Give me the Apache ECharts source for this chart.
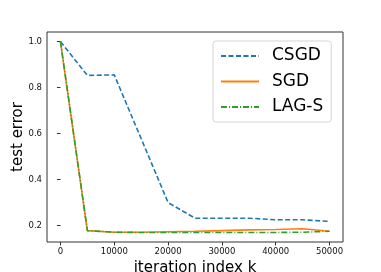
<!DOCTYPE html>
<html><head><meta charset="utf-8">
<script src="https://cdn.jsdelivr.net/npm/echarts@6/dist/echarts.min.js"></script>
<style>html,body{margin:0;padding:0;background:#fff}#c{width:381px;height:272px}</style>
</head><body><div id="c"></div>
<script>
const iterations = [0, 5000, 10000, 15000, 20000, 25000, 30000, 35000, 40000, 45000, 50000];
const csgdIters = [0, 5000, 10000, 20000, 25000, 30000, 35000, 40000, 45000, 50000];
const csgd = [1.0, 0.853, 0.855, 0.300, 0.232, 0.232, 0.232, 0.225, 0.225, 0.218];
const sgd = [1.0, 0.178, 0.171, 0.171, 0.173, 0.175, 0.178, 0.181, 0.183, 0.186, 0.175];
const lags = [1.0, 0.178, 0.171, 0.170, 0.170, 0.170, 0.170, 0.170, 0.170, 0.171, 0.175];
const xTicks = [0, 10000, 20000, 30000, 40000, 50000];
const yTicks = [0.2, 0.4, 0.6, 0.8, 1.0];
const seriesNames = ['CSGD', 'SGD', 'LAG-S'];

const pair = (xs, ys) => xs.map((x, i) => [x, ys[i]]);
const font = 'DejaVu Sans';
const chart = echarts.init(document.getElementById('c'), null, {renderer: 'canvas'});
chart.setOption({
  animation: false,
  grid: {left: 47, right: 38, top: 32, bottom: 30, show: true, borderColor: '#333', borderWidth: 1,
    containLabel: false, outerBoundsMode: 'none'},
  xAxis: {
    type: 'value', min: -2500, max: 52500,
    name: 'iteration index k', nameLocation: 'middle', nameGap: 19, nameMoveOverlap: false,
    nameTextStyle: {fontFamily: font, fontSize: 15, color: '#000'},
    axisLine: {show: false},
    splitLine: {show: false},
    axisTick: {show: true, customValues: xTicks, length: 3.5, lineStyle: {color: '#333'}},
    axisLabel: {customValues: xTicks, fontFamily: font, fontSize: 8.5, color: '#111', margin: 5,
      formatter: v => String(v)}
  },
  yAxis: {
    type: 'value', min: 0.1285, max: 1.0415,
    name: 'test error', nameLocation: 'middle', nameGap: 21, nameMoveOverlap: false,
    nameTextStyle: {fontFamily: font, fontSize: 15, color: '#000'},
    axisLine: {show: false},
    splitLine: {show: false},
    axisTick: {show: true, customValues: yTicks, length: 3.5, lineStyle: {color: '#333'}},
    axisLabel: {customValues: yTicks, fontFamily: font, fontSize: 8.5, color: '#111', margin: 5,
      formatter: v => v.toFixed(1)}
  },
  legend: {
    orient: 'vertical', left: 213, top: 41,
    padding: [5, 8, 5, 7], itemGap: 5.5, itemWidth: 38, itemHeight: 14,
    borderColor: '#d5d5d5', borderWidth: 1, borderRadius: 3, backgroundColor: '#fff',
    itemStyle: {opacity: 0},
    textStyle: {fontFamily: font, fontSize: 17, color: '#000', lineHeight: 20, padding: [0, 0, 0, 8]},
    data: seriesNames
  },
  series: [
    {name: seriesNames[0], type: 'line', data: pair(csgdIters, csgd), showSymbol: false, symbol: 'none',
      lineStyle: {color: '#1f77b4', width: 1.6, type: [5, 2.5]}, itemStyle: {color: '#1f77b4'}},
    {name: seriesNames[1], type: 'line', data: pair(iterations, sgd), showSymbol: false, symbol: 'none',
      lineStyle: {color: '#ff7f0e', width: 1.6, type: 'solid'}, itemStyle: {color: '#ff7f0e'}},
    {name: seriesNames[2], type: 'line', data: pair(iterations, lags), showSymbol: false, symbol: 'none',
      lineStyle: {color: '#2ca02c', width: 1.6, type: [6, 2, 1, 2]}, itemStyle: {color: '#2ca02c'}}
  ]
});
</script></body></html>
